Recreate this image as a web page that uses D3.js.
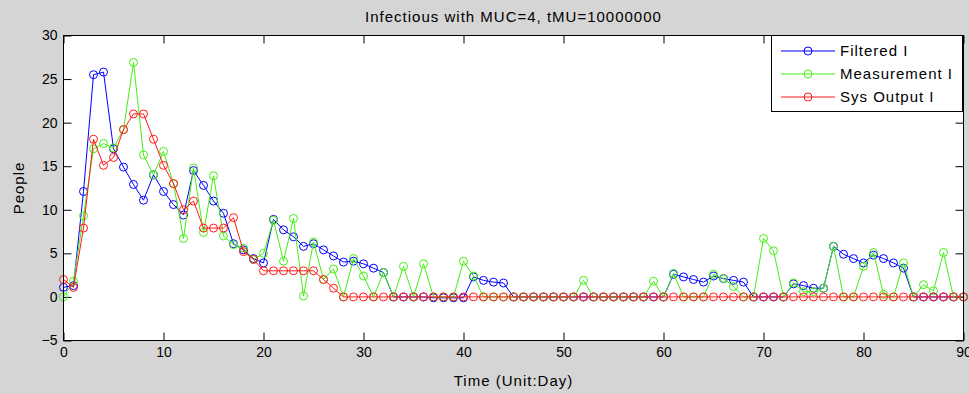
<!DOCTYPE html>
<html>
<head>
<meta charset="utf-8">
<script src="https://cdn.jsdelivr.net/npm/d3@7"></script>
<style>
html,body{margin:0;padding:0;background:#d5d5d5;}
svg{display:block;font-family:"Liberation Sans",Arial,sans-serif;}
</style>
</head>
<body>
<svg id="chart" width="969" height="394"></svg>
<script>
const title = "Infectious with MUC=4, tMU=10000000";
const xLabel = "Time (Unit:Day)";
const yLabel = "People";
const xTicks = [0,10,20,30,40,50,60,70,80,90];
const yTicks = [-5,0,5,10,15,20,25,30];
const seriesNames = ["Filtered I","Measurement I","Sys Output I"];

const days = d3.range(0, 91);

const filteredI = [
 1.1,1.3,12.1,25.5,25.8,17.0,14.9,12.9,11.1,14.0,
 12.1,10.6,9.4,14.5,12.8,11.0,9.6,6.1,5.4,4.4,
 3.9,8.9,7.7,6.9,5.8,6.1,5.4,4.7,4.0,4.1,
 3.8,3.3,2.8,0,0,0,0,-0.1,-0.1,-0.1,
 -0.1,2.3,1.9,1.7,1.6,0,0,0,0,0,
 0,0,0,0,0,0,0,0,0,0,
 0,2.6,2.3,2.0,1.7,2.4,2.1,1.9,1.7,0,
 0,0,0,1.5,1.3,1.0,1.0,5.8,4.9,4.4,
 3.9,4.8,4.4,3.9,3.3,0,0,0,0,0,
 0
];

const measurementI = [
 0.0,1.8,9.3,17.0,17.6,17.1,19.2,26.9,16.3,14.0,
 16.7,13.0,6.7,14.8,7.4,13.9,7.0,6.0,5.6,4.3,
 5.0,8.8,4.1,9.0,0.1,6.3,2.0,3.2,0,4.4,
 2.4,0,2.8,0,3.5,0,3.8,0,0,0,
 4.1,2.4,0,0,0,0,0,0,0,0,
 0,0,1.9,0,0,0,0,0,0,1.8,
 0,2.7,0,0,0,2.6,2.1,1.2,0,0,
 6.7,5.3,0,1.6,0.6,0.6,1.0,5.8,0,0,
 3.5,5.1,0.3,0,3.9,0,1.4,0.7,5.1,0,
 0
];

const sysOutputI = [
 2.0,1.1,7.9,18.1,15.1,16.0,19.2,21.0,21.0,18.1,
 15.1,13.0,10.0,11.0,7.9,7.9,7.9,9.1,5.2,4.3,
 3.0,3.0,3.0,3.0,3.0,3.0,2.0,1.0,0,0,
 0,0,0,0,0,0,0,0,0,0,
 0,0,0,0,0,0,0,0,0,0,
 0,0,0,0,0,0,0,0,0,0,
 0,0,0,0,0,0,0,0,0,0,
 0,0,0,0,0,0,0,0,0,0,
 0,0,0,0,0,0,0,0,0,0,
 0
];

const colors = ["#0000ff","#44ee11","#ff1a1a"];
const allSeries = [filteredI, measurementI, sysOutputI];

const svg = d3.select("#chart");
const L = 63.5, R = 963.5, T = 35.5, B = 340.5;
const x = d3.scaleLinear().domain([0,90]).range([L,R]);
const y = d3.scaleLinear().domain([-5,30]).range([B,T]);

svg.append("rect").attr("x",L).attr("y",T).attr("width",R-L).attr("height",B-T).attr("fill","#fff");

const tk = 8;
const gx = svg.append("g").attr("transform",`translate(0,${B})`)
  .call(d3.axisBottom(x).tickValues(xTicks).tickSize(-tk).tickPadding(7).tickFormat(d3.format("d")));
const gxt = svg.append("g").attr("transform",`translate(0,${T})`)
  .call(d3.axisTop(x).tickValues(xTicks).tickSize(-tk).tickFormat(""));
const gy = svg.append("g").attr("transform",`translate(${L},0)`)
  .call(d3.axisLeft(y).tickValues(yTicks).tickSize(-tk).tickPadding(6).tickFormat(d3.format("d")));
const gyr = svg.append("g").attr("transform",`translate(${R},0)`)
  .call(d3.axisRight(y).tickValues(yTicks).tickSize(-tk).tickFormat(""));
[gx,gxt,gy,gyr].forEach(g=>{
  g.select(".domain").remove();
  g.selectAll(".tick line").attr("stroke","#000");
  g.selectAll("text").attr("font-size","14px").attr("fill","#000").attr("font-family","Liberation Sans, Arial, sans-serif");
});

const line = d3.line().x((d,i)=>x(days[i])).y(d=>y(d));
const plot = svg.append("g");
allSeries.forEach((s,k)=>{
  const g = plot.append("g");
  g.append("path").datum(s).attr("d",line).attr("fill","none").attr("stroke",colors[k]).attr("stroke-width",1);
  g.selectAll("circle").data(s).join("circle")
    .attr("cx",(d,i)=>x(days[i])).attr("cy",d=>y(d)).attr("r",4)
    .attr("fill","none").attr("stroke",colors[k]).attr("stroke-width",1);
});

svg.append("rect").attr("x",L).attr("y",T).attr("width",R-L).attr("height",B-T)
  .attr("fill","none").attr("stroke","#000").attr("stroke-width",1);

const txt = (sel)=>sel.attr("font-size","15px").attr("letter-spacing","1px");
txt(svg.append("text").attr("x",(L+R)/2).attr("y",22).attr("text-anchor","middle")).text(title);
txt(svg.append("text").attr("x",(L+R)/2).attr("y",386).attr("text-anchor","middle")).text(xLabel);
txt(svg.append("text").attr("transform",`translate(24,${(T+B)/2}) rotate(-90)`).attr("text-anchor","middle")).text(yLabel);

const lg = svg.append("g");
lg.append("rect").attr("x",771.5).attr("y",35.5).attr("width",191).attr("height",76)
  .attr("fill","#fff").attr("stroke","#000").attr("stroke-width",1);
const ly = d3.scalePoint().domain(seriesNames).range([51,97]);
seriesNames.forEach((n,k)=>{
  const yy = ly(n);
  lg.append("line").attr("x1",781).attr("x2",835).attr("y1",yy).attr("y2",yy).attr("stroke",colors[k]);
  lg.append("circle").attr("cx",808).attr("cy",yy).attr("r",4).attr("fill","none").attr("stroke",colors[k]);
  txt(lg.append("text").attr("x",840).attr("y",yy+5)).text(n);
});
</script>
</body>
</html>
